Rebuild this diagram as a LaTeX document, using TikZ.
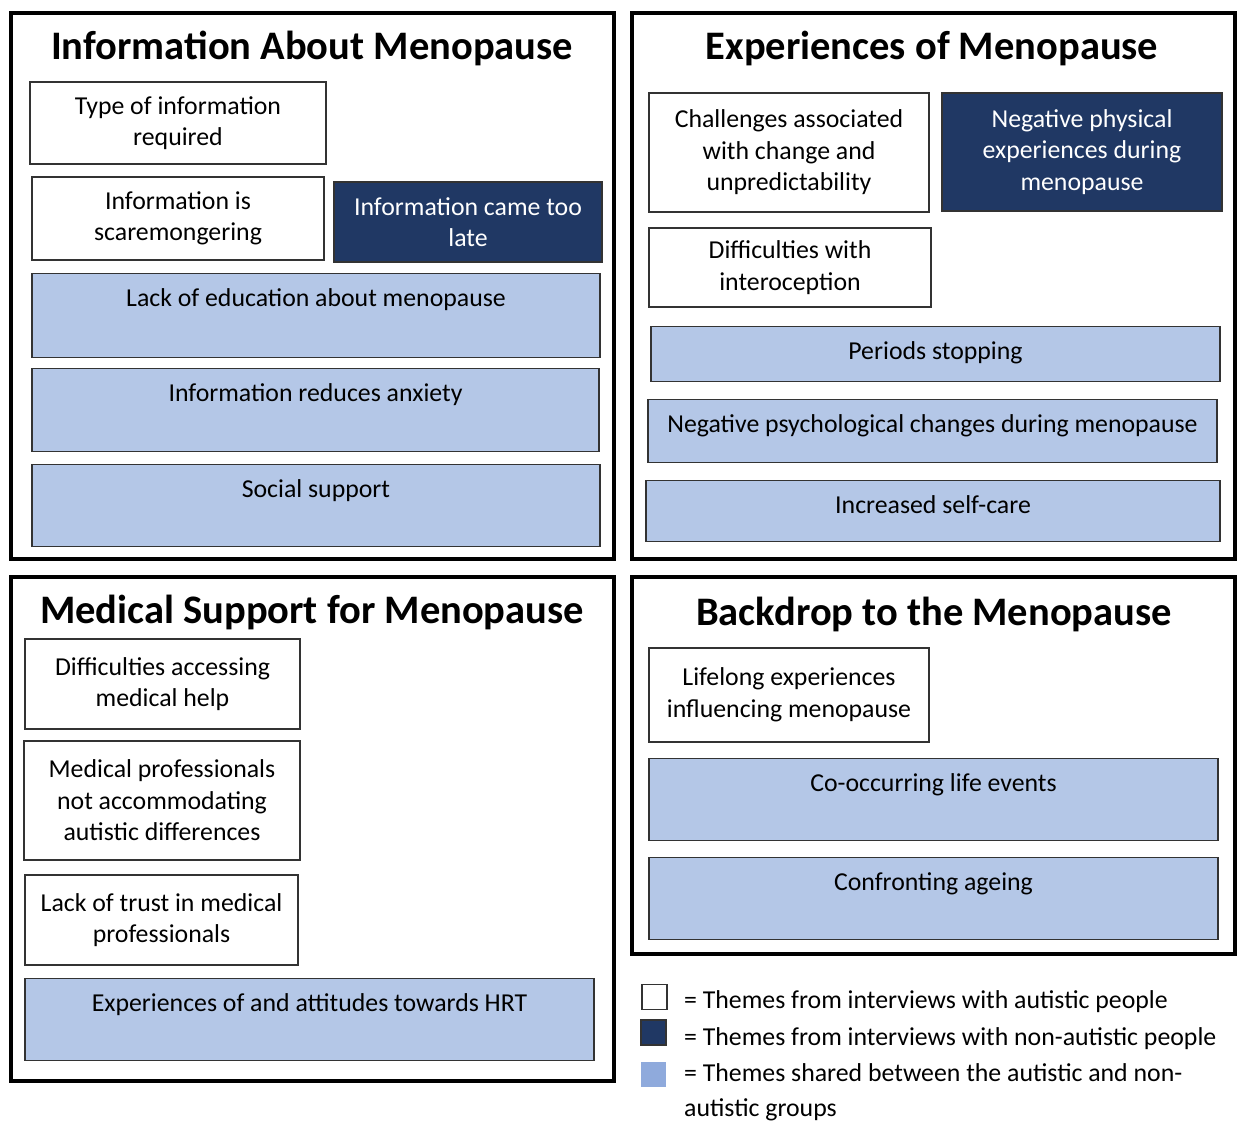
\documentclass[tikz,border=0pt]{standalone}
\usepackage{fontspec}
\setmainfont{Carlito}
\usetikzlibrary{positioning}
\definecolor{navy}{HTML}{203864}
\definecolor{sharedblue}{HTML}{B4C7E7}
\definecolor{sharedkey}{HTML}{8FAADC}
\tikzset{
  panel/.style={draw=black, line width=4pt},
  paneltitle/.style={anchor=base, inner sep=0pt, font=\fontsize{40.5}{48}\selectfont\bfseries},
  autistic/.style={draw=black!80, line width=1.2pt, fill=white, align=center, inner sep=0pt,
    font=\fontsize{25.8}{31.5}\selectfont},
  nonautistic/.style={autistic, fill=navy, text=white},
  sharedtheme/.style={autistic, fill=sharedblue, anchor=north, text height=33pt},
  keybox/.style={draw=black!80, line width=1.2pt, minimum size=25pt, inner sep=0pt},
  keytext/.style={anchor=base west, align=left, inner sep=0pt, font=\fontsize{25.8}{35}\selectfont}
}
\begin{document}
\begin{tikzpicture}[x=1pt, y=-1pt]
\useasboundingbox (0,0) rectangle (1239,1123);

% Information about menopause
\draw[panel] (11,13) rectangle (614,559);
\node[paneltitle] (infotitle) at (312,60) {Information About Menopause};
\node[autistic, minimum width=296pt, minimum height=82pt] (typeinfo) at (178,123) {Type of information\\ required};
\node[autistic, minimum width=292pt, minimum height=83pt] (scare) at (178,218.5) {Information is\\ scaremongering};
\node[nonautistic, minimum width=268pt, minimum height=80pt] (toolate) at (468,222) {Information came too\\ late};
\node[sharedtheme, minimum width=568pt, text depth=51pt] (lackedu) at (316,273) {Lack of education about menopause};
\node[sharedtheme, minimum width=567pt, text depth=50pt] (anxiety) at (315.5,368) {Information reduces anxiety};
\node[sharedtheme, minimum width=568pt, text depth=49pt] (social) at (316,464) {Social support};

% Experiences of menopause
\draw[panel] (632,13) rectangle (1235,559);
\node[paneltitle] (exptitle) at (932,60) {Experiences of Menopause};
\node[autistic, minimum width=280pt, minimum height=119pt] (change) at (789,152.5) {Challenges associated\\ with change and\\ unpredictability};
\node[nonautistic, minimum width=280pt, minimum height=118pt] (physical) at (1082,152) {Negative physical\\ experiences during\\ menopause};
\node[autistic, minimum width=282pt, minimum height=79pt] (intero) at (790,267.5) {Difficulties with\\ interoception};
\node[sharedtheme, minimum width=569pt, text depth=22pt] (periods) at (935.5,326) {Periods stopping};
\node[sharedtheme, minimum width=569pt, text depth=30pt] (psych) at (932.5,399) {Negative psychological changes during menopause};
\node[sharedtheme, minimum width=574pt, text depth=28pt] (selfcare) at (933,480) {Increased self-care};

% Medical support for menopause
\draw[panel] (11,577) rectangle (614,1081);
\node[paneltitle] (medtitle) at (312,623) {Medical Support for Menopause};
\node[autistic, minimum width=275pt, minimum height=90pt] (access) at (162.5,684) {Difficulties accessing\\ medical help};
\node[autistic, minimum width=276pt, minimum height=119pt] (profs) at (162,800.5) {Medical professionals\\ not accommodating\\ autistic differences};
\node[autistic, minimum width=273pt, minimum height=90pt] (trust) at (161.5,920) {Lack of trust in medical\\ professionals};
\node[sharedtheme, minimum width=569pt, text depth=49pt] (hrt) at (309.5,978) {Experiences of and attitudes towards HRT};

% Backdrop to the menopause
\draw[panel] (632,577) rectangle (1235,954);
\node[paneltitle] (backtitle) at (934,625) {Backdrop to the Menopause};
\node[autistic, minimum width=280pt, minimum height=94pt] (lifelong) at (789,695) {Lifelong experiences\\ influencing menopause};
\node[sharedtheme, minimum width=569pt, text depth=49pt] (events) at (933.5,758) {Co-occurring life events};
\node[sharedtheme, minimum width=569pt, text depth=49pt] (ageing) at (933.5,857) {Confronting ageing};

% key
\node[keybox, fill=white] (keyaut) at (654.5,997) {};
\node[keybox, fill=navy] (keynon) at (653.5,1032.5) {};
\node[keybox, draw=none, fill=sharedkey] (keyshared) at (653.5,1074.5) {};
\node[keytext] (keyauttext) at (684,1008) {= Themes from interviews with autistic people};
\node[keytext] (keynontext) at (684,1045) {= Themes from interviews with non-autistic people};
\node[keytext] (keysharedtext) at (684,1116) {= Themes shared between the autistic and non-\\autistic groups};
\end{tikzpicture}
\end{document}
